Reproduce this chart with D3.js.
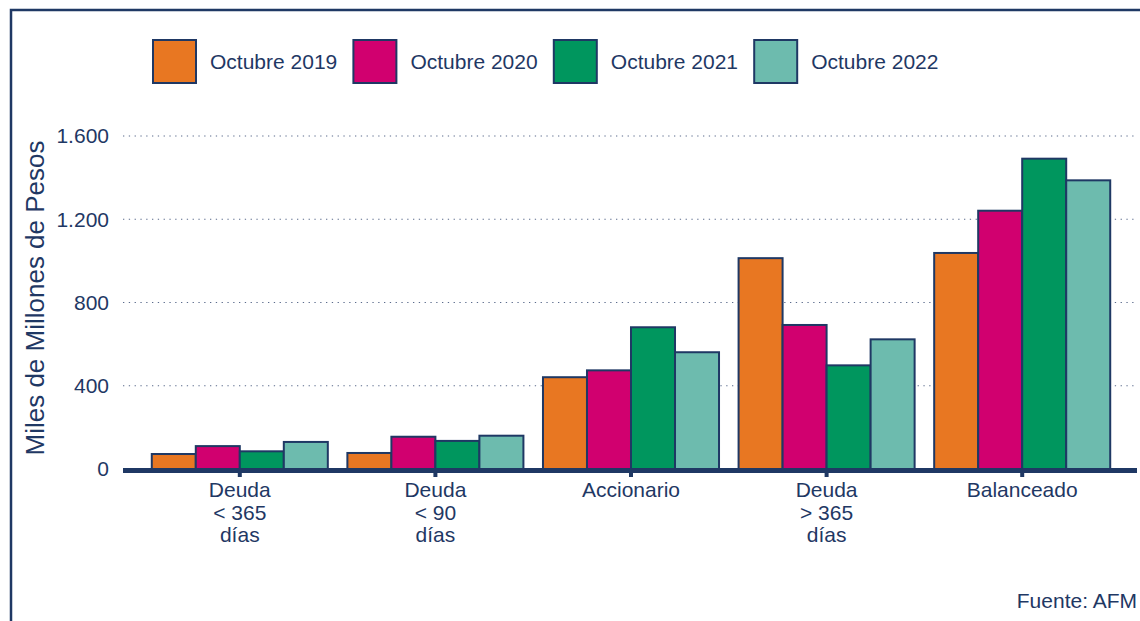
<!DOCTYPE html>
<html>
<head>
<meta charset="utf-8">
<script src="https://cdn.jsdelivr.net/npm/d3@7"></script>
<style>
  body { margin: 0; background: #fff; }
  text { font-family: "Liberation Sans", Arial, sans-serif; fill: #1f3864; }
</style>
</head>
<body>
<svg id="svg"></svg>
<script>
// data
var categories = [["Deuda", "< 365", "días"], ["Deuda", "< 90", "días"], ["Accionario"], ["Deuda", "> 365", "días"], ["Balanceado"]]
var series = ["Octubre 2019", "Octubre 2020", "Octubre 2021", "Octubre 2022"]
var v2019 = [72, 77, 441, 1013, 1038]
var v2020 = [110, 155, 474, 692, 1241]
var v2021 = [85, 135, 681, 498, 1491]
var v2022 = [130, 160, 561, 623, 1387]
var yTicks = [0, 400, 800, 1200, 1600]
var colors = ["#e87722", "#d1006f", "#00965e", "#6dbbae"]

var navy = "#1f3864"
var width = 1140, height = 621
var values = [v2019, v2020, v2021, v2022]
var fs = "21px"

var svg = d3.select("#svg")
  .attr("width", width)
  .attr("height", height)

// frame
svg.append("path")
  .attr("d", "M11,621 V10 H1140")
  .attr("fill", "none")
  .attr("stroke", navy)
  .attr("stroke-width", 2.5)

var x0 = d3.scaleBand()
  .domain(d3.range(categories.length))
  .range([142, 1120])
  .paddingInner(0.1)
  .paddingOuter(0.05)
var x1 = d3.scaleBand()
  .domain(d3.range(series.length))
  .range([0, x0.bandwidth()])
var y = d3.scaleLinear()
  .domain([0, 1600])
  .range([469, 136])

// grid
svg.append("g").selectAll("line")
  .data(yTicks.filter(d => d > 0))
  .enter().append("line")
  .attr("x1", 123).attr("x2", 1137)
  .attr("y1", d => y(d)).attr("y2", d => y(d))
  .attr("stroke", "#5b6b8c")
  .attr("stroke-width", 1.2)
  .attr("stroke-dasharray", "1.3,4.5")

// y tick labels
svg.append("g").selectAll("text")
  .data(yTicks)
  .enter().append("text")
  .attr("x", 109)
  .attr("y", d => y(d))
  .attr("dy", "0.35em")
  .attr("text-anchor", "end")
  .style("font-size", fs)
  .text(d => d3.format(",")(d).replace(/,/g, "."))

// y title
svg.append("text")
  .attr("transform", "translate(44,298) rotate(-90)")
  .attr("text-anchor", "middle")
  .style("font-size", "26px")
  .text("Miles de Millones de Pesos")

// bars
var groups = svg.append("g").selectAll("g")
  .data(categories)
  .enter().append("g")
  .attr("transform", (d, i) => `translate(${x0(i)},0)`)

groups.selectAll("rect")
  .data((d, i) => values.map((s, k) => ({k: k, v: s[i]})))
  .enter().append("rect")
  .attr("x", d => x1(d.k))
  .attr("y", d => y(d.v))
  .attr("width", x1.bandwidth())
  .attr("height", d => y(0) - y(d.v))
  .attr("fill", d => colors[d.k])
  .attr("stroke", navy)
  .attr("stroke-width", 2)

// baseline + ticks
svg.append("line")
  .attr("x1", 123).attr("x2", 1137)
  .attr("y1", y(0) + 1.5).attr("y2", y(0) + 1.5)
  .attr("stroke", navy)
  .attr("stroke-width", 5)

svg.append("g").selectAll("rect")
  .data(categories)
  .enter().append("rect")
  .attr("x", (d, i) => x0(i) + x0.bandwidth() / 2 - 2)
  .attr("y", y(0) + 3)
  .attr("width", 4)
  .attr("height", 5)
  .attr("fill", navy)

// category labels
svg.append("g").selectAll("text")
  .data(categories)
  .enter().append("text")
  .attr("x", (d, i) => x0(i) + x0.bandwidth() / 2)
  .attr("y", 497)
  .attr("text-anchor", "middle")
  .style("font-size", fs)
  .each(function(d) {
    d3.select(this).selectAll("tspan")
      .data(d)
      .enter().append("tspan")
      .attr("x", d3.select(this).attr("x"))
      .attr("dy", (t, j) => j === 0 ? 0 : 22.5)
      .text(t => t)
  })

// legend
var leg = svg.append("g").selectAll("g")
  .data(series)
  .enter().append("g")
  .attr("transform", (d, i) => `translate(${153 + i * 200.4},40)`)
leg.append("rect")
  .attr("width", 43).attr("height", 43)
  .attr("fill", (d, i) => colors[i])
  .attr("stroke", navy)
  .attr("stroke-width", 2)
leg.append("text")
  .attr("x", 57)
  .attr("y", 22)
  .attr("dy", "0.35em")
  .style("font-size", fs)
  .text(d => d)

// source
svg.append("text")
  .attr("x", 1137)
  .attr("y", 608)
  .attr("text-anchor", "end")
  .style("font-size", fs)
  .text("Fuente: AFM")
</script>
</body>
</html>
